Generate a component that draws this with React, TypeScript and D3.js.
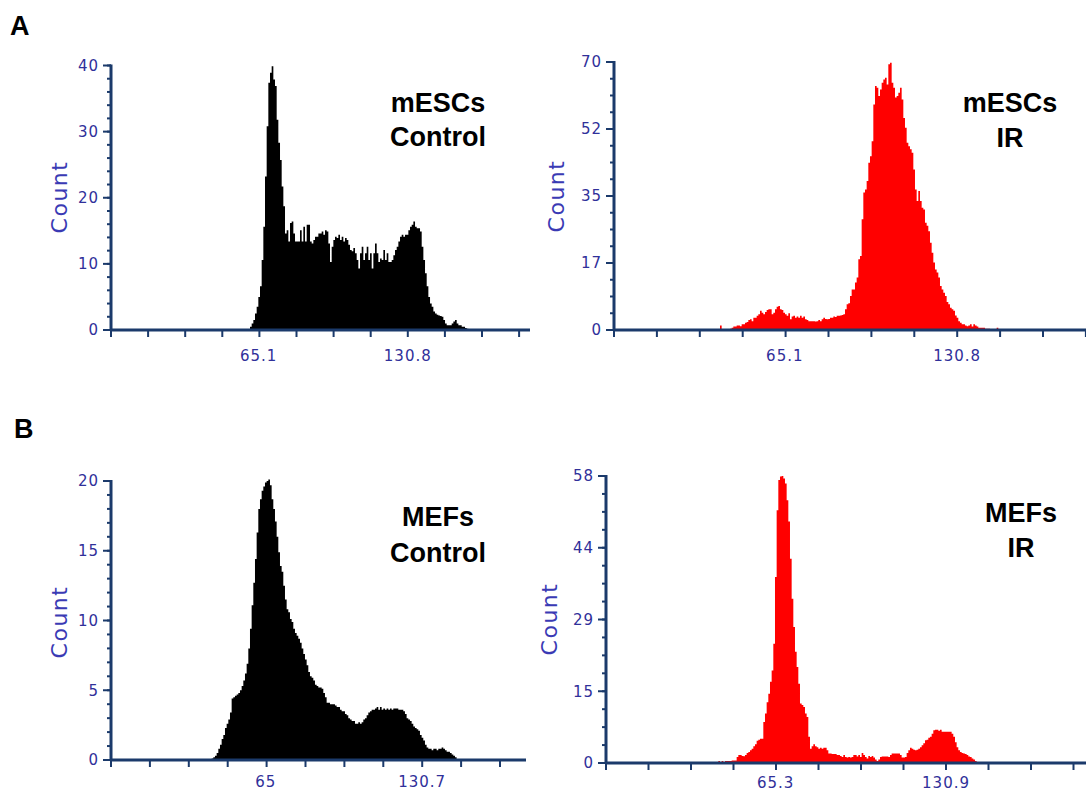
import React from "react";
import * as d3 from "d3";

// ---------- Panel A, left: mESCs Control ----------
const escCtrlStart = 61.26;
const escCtrlBin = 0.7346;
const escCtrlCounts = [
  0.5, 1.0, 1.5, 2.5, 3.5, 5.0, 6.6, 10.6, 15.6, 23.2,
  30.8, 37.4, 38.9, 39.9, 37.9, 36.9, 31.8, 28.3, 25.7, 21.7,
  18.7, 14.6, 15.1, 13.4, 16.2, 16.4, 14.6, 13.4, 13.4, 13.4,
  15.1, 13.4, 15.6, 13.4, 15.9, 15.9, 13.4, 13.1, 13.6, 14.1,
  14.1, 14.6, 14.6, 14.9, 14.4, 15.1, 14.9, 13.1, 10.3, 12.6,
  13.6, 14.1, 13.9, 14.4, 13.6, 14.1, 13.4, 13.9, 13.6, 12.9,
  12.1, 11.9, 12.4, 11.6, 10.6, 9.3, 11.6, 12.6, 10.6, 11.6,
  12.6, 10.6, 11.6, 9.3, 11.6, 13.1, 11.6, 10.3, 10.8, 10.6,
  12.1, 10.6, 11.6, 10.3, 10.3, 10.6, 11.3, 12.1, 12.6, 13.4,
  14.1, 14.4, 14.1, 14.4, 14.4, 15.1, 15.6, 15.9, 16.4, 15.6,
  15.4, 15.4, 14.9, 12.6, 10.6, 8.6, 6.6, 5.0, 4.0, 3.5,
  2.8, 2.5, 2.3, 2.2, 2.1, 2.0, 1.5, 1.0, 0.7, 0.7,
  0.7, 1.0, 1.3, 1.5, 1.0, 0.7, 0.7, 0.5, 0.5, 0.3, 0.2,
];
const escCtrlYTicks = [0, 10, 20, 30, 40];
const escCtrlYLabels = ["0", "10", "20", "30", "40"];
const escCtrlXTicks = [65.1, 130.8];
const escCtrlXLabels = ["65.1", "130.8"];

// ---------- Panel A, right: mESCs IR ----------
const escIrStart = 39.76;
const escIrBin = 0.6352;
const escIrCounts = [
  0, 1.2, 0, 0, 0, 0, 0, 0.3, 0.6, 0.9,
  0.9, 1.2, 1.2, 1.0, 1.5, 1.5, 1.9, 2.1, 2.6, 2.8,
  2.3, 3.2, 3.2, 3.7, 4.1, 5.0, 4.5, 4.1, 4.7, 5.2,
  5.4, 5.4, 4.1, 4.5, 5.4, 6.1, 6.3, 5.4, 5.2, 4.5,
  4.1, 3.7, 4.4, 2.8, 3.5, 3.7, 3.2, 3.5, 3.2, 3.7,
  3.2, 3.5, 2.8, 2.6, 2.3, 2.3, 2.3, 2.3, 2.2, 2.3,
  2.6, 2.3, 2.8, 3.2, 2.9, 2.8, 2.9, 3.2, 3.2, 3.5,
  3.4, 3.7, 3.7, 3.8, 3.9, 4.1, 5.4, 6.7, 7.0, 8.9,
  10.6, 10.6, 12.4, 13.7, 18.5, 19.3, 28.9, 35.9, 36.7, 38.9,
  43.7, 45.4, 49.3, 58.9, 63.7, 63.3, 61.1, 62.8, 64.6, 65.4,
  65.9, 64.1, 69.4, 69.8, 64.6, 63.3, 60.7, 61.1, 62.0, 63.3,
  60.2, 55.4, 52.8, 48.9, 48.0, 47.2, 46.3, 41.9, 36.7, 33.7,
  36.3, 33.7, 31.9, 31.5, 28.0, 27.2, 25.8, 22.8, 20.2, 17.6,
  15.8, 15.0, 13.7, 11.5, 10.6, 9.7, 8.9, 7.3, 6.7, 5.8,
  5.4, 5.0, 3.8, 3.2, 2.3, 1.9, 1.5, 1.5, 1.2, 1.0,
  1.2, 1.5, 0.9, 1.5, 1.2, 0.9, 0.6, 0.6, 0.6, 0.6,
  0.3, 0.3, 0.3, 0.2, 0, 0, 0, 0.6,
];
const escIrYTicks = [0, 17.5, 35, 52.5, 70];
const escIrYLabels = ["0", "17", "35", "52", "70"];
const escIrXTicks = [65.1, 130.8];
const escIrXLabels = ["65.1", "130.8"];

// ---------- Panel B, left: MEFs Control ----------
const mefCtrlStart = 41.58;
const mefCtrlBin = 0.7;
const mefCtrlCounts = [
  0, 0.1, 0.2, 0.3, 0.5, 0.8, 1.1, 1.5, 1.8, 2.3,
  2.6, 2.9, 3.4, 4.4, 4.5, 4.6, 4.7, 4.8, 5.0, 5.3,
  5.7, 6.2, 6.9, 8.0, 9.4, 11.1, 12.7, 14.4, 16.3, 18.0,
  18.7, 19.3, 19.6, 19.9, 20.0, 20.1, 19.7, 18.7, 18.0, 17.1,
  16.0, 14.9, 13.9, 13.5, 12.5, 11.5, 10.8, 10.6, 10.1, 9.9,
  9.4, 9.1, 8.9, 8.7, 8.4, 8.0, 7.6, 7.2, 6.8, 6.3,
  6.0, 5.9, 5.7, 5.4, 5.3, 5.2, 5.2, 5.1, 4.8, 4.5,
  4.1, 4.1, 4.0, 4.0, 4.0, 3.9, 3.8, 3.8, 3.6, 3.5,
  3.5, 3.3, 3.2, 3.0, 2.9, 2.8, 2.8, 2.6, 2.6, 2.7,
  2.6, 2.7, 2.9, 3.0, 3.2, 3.4, 3.5, 3.6, 3.6, 3.7,
  3.8, 3.6, 3.8, 3.6, 3.7, 3.6, 3.7, 3.6, 3.7, 3.6,
  3.7, 3.7, 3.7, 3.6, 3.6, 3.6, 3.5, 3.3, 3.0, 2.9,
  2.8, 2.6, 2.4, 2.3, 2.2, 2.1, 1.8, 1.6, 1.4, 1.1,
  0.9, 0.8, 0.8, 0.7, 0.8, 0.8, 0.7, 0.8, 0.8, 0.9,
  0.8, 0.7, 0.6, 0.6, 0.5, 0.4, 0.3, 0.2, 0.05, 0,
];
const mefCtrlYTicks = [0, 5, 10, 15, 20];
const mefCtrlYLabels = ["0", "5", "10", "15", "20"];
const mefCtrlXTicks = [65, 130.7];
const mefCtrlXLabels = ["65", "130.7"];

// ---------- Panel B, right: MEFs IR ----------
const mefIrStart = 43.24;
const mefIrBin = 0.6415;
const mefIrCounts = [
  0.4, 0.1, 0.4, 0.2, 0.4, 0.4, 0.4, 0.4, 0.5, 0.5,
  0.5, 1.2, 1.6, 1.6, 1.4, 1.35, 1.6, 2.0, 2.2, 2.6,
  2.9, 3.4, 3.8, 4.5, 4.7, 4.9, 4.9, 8.3, 10.0, 12.3,
  14.0, 16.4, 18.7, 24.1, 37.6, 51.1, 57.2, 57.9, 58.0, 57.5,
  56.5, 53.1, 48.8, 41.3, 33.2, 27.5, 22.5, 19.4, 16.0, 12.0,
  11.7, 11.3, 10.0, 9.3, 5.3, 2.9, 3.4, 3.8, 3.4, 3.2,
  2.9, 3.1, 2.9, 3.1, 3.1, 2.6, 1.9, 1.9, 1.8, 1.8,
  1.8, 1.6, 1.6, 1.4, 1.2, 1.6, 1.2, 1.1, 1.2, 1.1,
  1.2, 1.6, 1.6, 1.3, 1.6, 1.2, 2.0, 1.6, 1.2, 0.9,
  1.4, 1.2, 1.4, 1.1, 0.7, 0.4, 0.7, 1.2, 1.3, 1.3,
  1.3, 1.3, 1.2, 1.6, 1.9, 1.9, 1.9, 1.9, 1.9, 1.6,
  1.1, 1.1, 1.2, 2.0, 2.6, 3.1, 2.9, 2.7, 2.6, 2.7,
  2.9, 3.2, 3.6, 4.0, 4.6, 4.7, 5.1, 5.3, 5.9, 6.6,
  6.7, 6.7, 6.5, 6.7, 6.3, 6.3, 6.3, 6.3, 6.3, 6.3,
  5.9, 5.3, 4.2, 3.2, 2.6, 2.2, 2.0, 1.9, 1.8, 1.6,
  1.3, 1.2, 0.9, 0.7, 0.4, 0.1, 0,
];
const mefIrYTicks = [0, 14.5, 29, 43.5, 58];
const mefIrYLabels = ["0", "15", "29", "44", "58"];
const mefIrXTicks = [65.3, 130.9];
const mefIrXLabels = ["65.3", "130.9"];

const AXIS = "#1b3a6b";
const TICKTXT = "#30309a";
const COUNTTXT = "#3a3ab4";

type Panel = {
  counts: number[];
  start: number;
  bin: number;
  fill: string;
  yMax: number;
  yTicks: number[];
  yLabels: string[];
  yMinor: number;
  xTicks: number[];
  xLabels: string[];
  tickStep: number;
  title: string[];
  // layout
  x0: number;
  tickPx: number;
  xEnd: number;
  xTickCount: number;
  yBase: number;
  yTop: number;
  xLabelY: number;
  countX: number;
  countY: number;
  titleX: number;
  titleY: number[];
};

const panels: Panel[] = [
  {
    counts: escCtrlCounts, start: escCtrlStart, bin: escCtrlBin, fill: "#000000",
    yMax: 40, yTicks: escCtrlYTicks, yLabels: escCtrlYLabels, yMinor: 2,
    xTicks: escCtrlXTicks, xLabels: escCtrlXLabels, tickStep: 16.35,
    title: ["mESCs", "Control"],
    x0: 111, tickPx: 37.1, xEnd: 530, xTickCount: 12, yBase: 330, yTop: 65.5, xLabelY: 361,
    countX: 59, countY: 197, titleX: 438, titleY: [112, 146],
  },
  {
    counts: escIrCounts, start: escIrStart, bin: escIrBin, fill: "#ff0000",
    yMax: 70, yTicks: escIrYTicks, yLabels: escIrYLabels, yMinor: 70 / 16,
    xTicks: escIrXTicks, xLabels: escIrXLabels, tickStep: 16.35,
    title: ["mESCs", "IR"],
    x0: 614, tickPx: 42.9, xEnd: 1086, xTickCount: 12, yBase: 330, yTop: 62, xLabelY: 361,
    countX: 556, countY: 196, titleX: 1010, titleY: [112, 147],
  },
  {
    counts: mefCtrlCounts, start: mefCtrlStart, bin: mefCtrlBin, fill: "#000000",
    yMax: 20, yTicks: mefCtrlYTicks, yLabels: mefCtrlYLabels, yMinor: 1,
    xTicks: mefCtrlXTicks, xLabels: mefCtrlXLabels, tickStep: 16.34,
    title: ["MEFs", "Control"],
    x0: 111, tickPx: 38.9, xEnd: 526, xTickCount: 11, yBase: 760, yTop: 481, xLabelY: 787,
    countX: 59, countY: 622, titleX: 438, titleY: [526, 562],
  },
  {
    counts: mefIrCounts, start: mefIrStart, bin: mefIrBin, fill: "#ff0000",
    yMax: 58, yTicks: mefIrYTicks, yLabels: mefIrYLabels, yMinor: 58 / 16,
    xTicks: mefIrXTicks, xLabels: mefIrXLabels, tickStep: 16.36,
    title: ["MEFs", "IR"],
    x0: 606, tickPx: 42.5, xEnd: 1086, xTickCount: 12, yBase: 763, yTop: 476, xLabelY: 788,
    countX: 549, countY: 619, titleX: 1021, titleY: [522, 557],
  },
];

function HistPanel({ p }: { p: Panel }) {
  const x = d3.scaleLinear().domain([0, p.tickStep]).range([p.x0, p.x0 + p.tickPx]);
  const y = d3.scaleLinear().domain([0, p.yMax]).range([p.yBase, p.yTop]);
  const pts: [number, number][] = p.counts.map((c, i) => [p.start + i * p.bin, c]);
  pts.push([p.start + p.counts.length * p.bin, p.counts[p.counts.length - 1]]);
  const area = d3
    .area<[number, number]>()
    .x((d) => x(d[0]))
    .y0(y(0))
    .y1((d) => y(d[1]))
    .curve(d3.curveStepAfter);
  const minor = d3.range(0, p.yMax + 1e-6, p.yMinor);
  const xt = d3.range(0, p.xTickCount).map((k) => k * p.tickStep);
  const tickFont = "'DejaVu Sans', Verdana, sans-serif";
  return (
    <g>
      <path d={area(pts) || ""} fill={p.fill} />
      {minor.map((v, i) => (
        <line key={"m" + i} x1={p.x0 - 4} x2={p.x0} y1={y(v)} y2={y(v)} stroke={AXIS} strokeWidth={2} />
      ))}
      {p.yTicks.map((v, i) => (
        <g key={"y" + i}>
          <line x1={p.x0 - 8} x2={p.x0} y1={y(v)} y2={y(v)} stroke={AXIS} strokeWidth={2} />
          <text
            x={p.x0 - 12}
            y={y(v)}
            dy="0.36em"
            textAnchor="end"
            fontFamily={tickFont}
            fontSize={15}
            letterSpacing={1}
            fill={TICKTXT}
          >
            {p.yLabels[i]}
          </text>
        </g>
      ))}
      {xt.map((v, i) => (
        <line key={"x" + i} x1={x(v)} x2={x(v)} y1={p.yBase} y2={p.yBase + 7} stroke={AXIS} strokeWidth={2} />
      ))}
      {p.xTicks.map((v, i) => (
        <text
          key={"xl" + i}
          x={x(v)}
          y={p.xLabelY}
          textAnchor="middle"
          fontFamily={tickFont}
          fontSize={15}
          letterSpacing={1}
          fill={TICKTXT}
        >
          {p.xLabels[i]}
        </text>
      ))}
      <line x1={p.x0} x2={p.x0} y1={p.yBase + 1} y2={y(p.yMax) - 1} stroke={AXIS} strokeWidth={3} />
      <line x1={p.x0 - 1} x2={p.xEnd} y1={p.yBase} y2={p.yBase} stroke={AXIS} strokeWidth={3} />
      <text
        transform={`translate(${p.countX},${p.countY}) rotate(-90)`}
        textAnchor="middle"
        dy="0.35em"
        fontFamily={tickFont}
        fontSize={22}
        letterSpacing={1.5}
        fill={COUNTTXT}
      >
        Count
      </text>
      {p.title.map((t, i) => (
        <text
          key={"t" + i}
          x={p.titleX}
          y={p.titleY[i]}
          textAnchor="middle"
          fontFamily="'Liberation Sans', Arial, sans-serif"
          fontWeight="bold"
          fontSize={27}
          fill="#000"
        >
          {t}
        </text>
      ))}
    </g>
  );
}

export default function App() {
  return (
    <svg
      width={1086}
      height={793}
      viewBox="0 0 1086 793"
      style={{ position: "absolute", left: 0, top: 0, background: "#fff" }}
    >
      <rect width={1086} height={793} fill="#fff" />
      <text x={10} y={35} fontFamily="'Liberation Sans', Arial, sans-serif" fontWeight="bold" fontSize={27}>
        A
      </text>
      <text x={14} y={438} fontFamily="'Liberation Sans', Arial, sans-serif" fontWeight="bold" fontSize={27}>
        B
      </text>
      {panels.map((p, i) => (
        <HistPanel key={i} p={p} />
      ))}
    </svg>
  );
}
